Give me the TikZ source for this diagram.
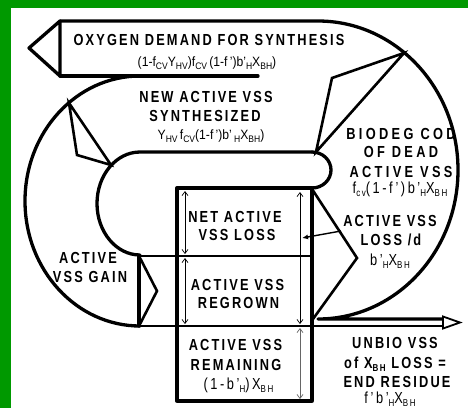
\documentclass[tikz,border=0pt]{standalone}
\usepackage{fontspec}
\setmainfont{Liberation Sans}
\newfontfamily\lab[FakeStretch=0.8,LetterSpace=13.5]{Liberation Sans}
\newfontfamily\labw[FakeStretch=0.8,LetterSpace=21]{Liberation Sans}
\newfontfamily\frm[FakeStretch=0.9]{Liberation Sans}
\newfontfamily\frms[FakeStretch=0.8,LetterSpace=16]{Liberation Sans}
\usetikzlibrary{arrows.meta,calc}
\definecolor{bordergreen}{RGB}{0,153,0}
\newcommand\sbs[1]{\raisebox{-3pt}{\fontsize{9.5}{9.5}\selectfont #1}}
\newcommand\sbl[1]{\raisebox{-3pt}{\fontsize{10}{10}\selectfont #1}}
\tikzset{
  outl/.style={line width=3.3pt, line join=round, line cap=round},
  chev/.style={line width=2.6pt, line join=miter},
  divl/.style={line width=2.4pt},
  thinarr/.style={line width=0.7pt, {Straight Barb[length=4pt,width=6pt]}-{Straight Barb[length=4pt,width=6pt]}},
  lbl/.style={font=\lab\bfseries\fontsize{16}{19}\selectfont, inner sep=0pt, anchor=base},
  lblw/.style={font=\labw\bfseries\fontsize{16}{19}\selectfont, inner sep=0pt, anchor=base},
  fml/.style={font=\frm\fontsize{13.5}{15}\selectfont, inner sep=0pt, anchor=base},
  fmls/.style={font=\frms\fontsize{16}{19}\selectfont, inner sep=0pt, anchor=base}
}
\begin{document}
\begin{tikzpicture}[x=1pt,y=-1pt]
\useasboundingbox (0,0) rectangle (468,408);
\fill[white] (0,0) rectangle (468,408);
\fill[bordergreen] (0,0) rectangle (468,8);
\fill[bordergreen] (0,0) rectangle (11,408);
\begin{scope}
\clip (11,8) rectangle (468,408);
% key points
\coordinate (o2tip) at (29,48);
\coordinate (o2top) at (60,21);
\coordinate (o2bot) at (60,76);
\coordinate (o2end) at (258,76);
\coordinate (arcstart) at (318,21);
\coordinate (arcend) at (318,319);
\coordinate (shafttop) at (443,319);
\coordinate (shaftbot) at (443,326);
\coordinate (tipup) at (443,316.5);
\coordinate (tip) at (460,322.5);
\coordinate (tiplow) at (443,328.5);
\coordinate (lstart) at (140,76);
\coordinate (pilltl) at (140,152);
\coordinate (pilltr) at (312,152);
\coordinate (boxtl) at (177,188);
\coordinate (boxtr) at (312,188);
\coordinate (boxbr) at (312,401);
\coordinate (divAl) at (139,256);
\coordinate (divAr) at (312,256);
\coordinate (divBl) at (139,326);
\coordinate (gaintip) at (157,291);
\coordinate (newa) at (69,103);
\coordinate (newb) at (77,155);
\coordinate (newc) at (111,165);
\coordinate (bioa) at (404,53);
\coordinate (biob) at (332,78);
\coordinate (bioc) at (316,152);
\coordinate (lossa) at (312,189);
\coordinate (losstip) at (357,258);
\coordinate (lossb) at (313,319);
\coordinate (lossarrs) at (341,231);
\coordinate (lossarre) at (302,238);

% oxygen arrow head and outer loop
\draw[outl] (o2tip) -- (o2top) -- (o2bot) -- cycle;
\draw[outl] (o2top) -- (arcstart) arc[start angle=90,end angle=-90,x radius=140pt,y radius=149pt] -- (shafttop);
\draw[outl] (o2bot) -- (o2end);
% left big arc
\draw[outl] (lstart) arc[start angle=90,end angle=270,x radius=115pt,y radius=125pt];
% inner pill
\draw[outl] (pilltr) -- (pilltl) arc[start angle=90,end angle=270,x radius=43pt,y radius=51.5pt];
\draw[outl] (pilltr) arc[start angle=90,end angle=-90,x radius=19pt,y radius=18pt];
% box
\draw[outl] (boxtl) rectangle (boxbr);
\draw[divl] (divAl) -- (divAr);
\draw[divl] (divBl) -- (shaftbot);
\draw[line width=1.8pt, fill=white, line join=miter] (tipup) -- (tip) -- (tiplow) -- cycle;
% gain
\draw[outl] (divAl) -- (divBl);
\draw[chev] (divAl) -- (gaintip) -- (divBl);
% triangles
\draw[chev] (newa) -- (newb) -- (newc) -- cycle;
\draw[chev] (bioa) -- (biob) -- (bioc) -- cycle;
\draw[chev] (lossa) -- (losstip) -- (lossb);
\draw[line width=1.4pt,-{Latex[length=6pt,width=5pt]}] (lossarrs) -- (lossarre);
% thin double arrows
\coordinate (t1a) at (185,191); \coordinate (t1b) at (185,254);
\coordinate (t2a) at (185,258); \coordinate (t2b) at (185,324);
\coordinate (t3a) at (300,192); \coordinate (t3b) at (300,324);
\coordinate (t4a) at (300,328); \coordinate (t4b) at (300,399);
\draw[thinarr] (t1a) -- (t1b);
\draw[thinarr] (t2a) -- (t2b);
\draw[thinarr] (t3a) -- (t3b);
\draw[thinarr, black!60] (t4a) -- (t4b);

% labels
\node[lbl] (o2lab) at (209,45.5) {OXYGEN DEMAND FOR SYNTHESIS};
\node[fml] (o2f) at (207,66) {(1-f\sbs{CV}Y\sbs{HV})f\sbs{CV}\,(1-f\,’)b’\sbs{H}X\sbs{BH})};
\node[lbl] (new1) at (206,102) {NEW ACTIVE VSS};
\node[lbl] (new2) at (205,121) {SYNTHESIZED};
\node[fml] (newf) at (211,139.5) {Y\sbs{HV}\,f\sbs{CV}(1-f\,’)b’\,\sbs{H}X\sbs{BH})};
\node[lblw] (bio1) at (401,139) {BIODEG COD};
\node[lblw] (bio2) at (401,157) {OF DEAD};
\node[lblw] (bio3) at (401,177) {ACTIVE VSS};
\node[fmls] (biof) at (400,193) {f\sbl{cv}(1-f’)b’\sbl{H}X\sbl{BH}};
\node[lbl] (loss1) at (390,226.5) {ACTIVE VSS};
\node[lbl] (loss2) at (391,245) {LOSS /d};
\node[fmls] (lossf) at (390,265) {b’\sbl{H}X\sbl{BH}};
\node[lbl] (box1a) at (235,222) {NET ACTIVE};
\node[lbl] (box1b) at (237,240) {VSS LOSS};
\node[lbl] (box2a) at (237.5,290) {ACTIVE VSS};
\node[lbl] (box2b) at (238.5,308) {REGROWN};
\node[lbl] (box3a) at (235.5,350) {ACTIVE VSS};
\node[lbl] (box3b) at (236,370) {REMAINING};
\node[fmls] (box3f) at (238.5,389) {(1-b’\sbl{H})X\sbl{BH}};
\node[lbl] (gain1) at (88,263) {ACTIVE};
\node[lbl] (gain2) at (90,282) {VSS GAIN};
\node[lbl] (unb1) at (395,348) {UNBIO VSS};
\node[lbl] (unb2) at (395,368) {of X\sbl{BH} LOSS =};
\node[lbl] (unb3) at (397,387) {END RESIDUE};
\node[fmls] (unbf) at (390,403) {f’b’\sbl{H}X\sbl{BH}};
\end{scope}
\end{tikzpicture}
\end{document}
